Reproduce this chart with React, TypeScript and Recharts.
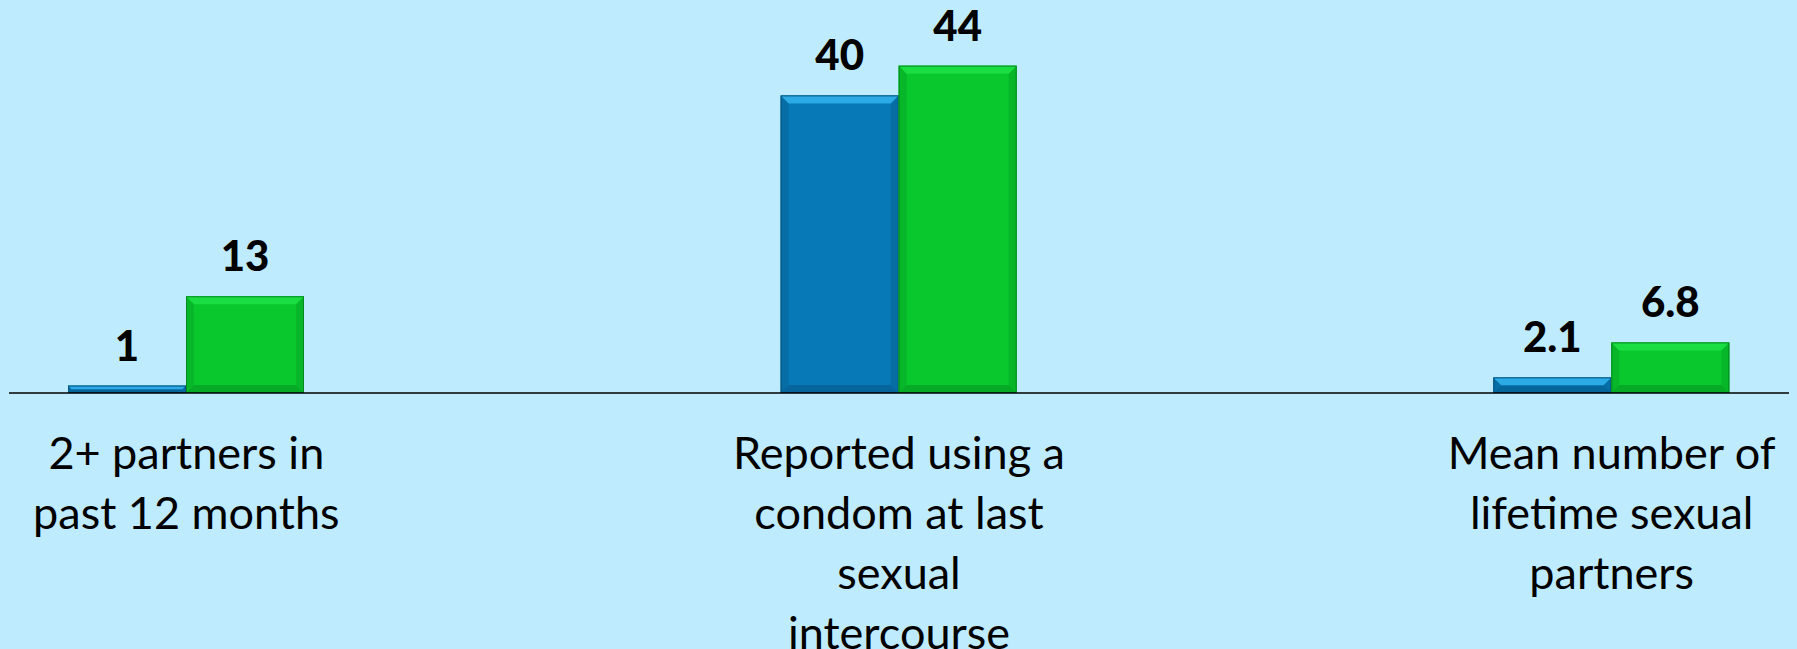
import React from 'react';
import { BarChart, Bar, XAxis, YAxis, LabelList } from 'recharts';

const CATEGORIES = [
  '2+ partners in\npast 12 months',
  'Reported using a\ncondom at last\nsexual\nintercourse',
  'Mean number of\nlifetime sexual\npartners',
];
const BLUE_VALUES = [1, 40, 2.1];
const GREEN_VALUES = [13, 44, 6.8];

const data = CATEGORIES.map((name, i) => ({
  name,
  blue: BLUE_VALUES[i],
  green: GREEN_VALUES[i],
}));

const BLUE = { main: '#0779B6', top: '#2CAAE6', side: '#066DA5', bottom: '#06659A', edge: '#05557F' };
const GREEN = { main: '#08C82D', top: '#1ADD42', side: '#07B629', bottom: '#06AA24', edge: '#068A20' };

const BevelBar = (props: any) => {
  const { x, y, width: w, height: h, tone } = props;
  if (!h || h <= 0) return null;
  const b = Math.min(8, h / 2, w / 2);
  const pts = (arr: number[][]) => arr.map((p) => p.join(',')).join(' ');
  return (
    <g>
      <rect x={x} y={y} width={w} height={h} fill={tone.main} />
      <polygon points={pts([[x, y], [x + b, y + b], [x + b, y + h - b], [x, y + h]])} fill={tone.side} />
      <polygon points={pts([[x + w, y], [x + w - b, y + b], [x + w - b, y + h - b], [x + w, y + h]])} fill={tone.side} />
      <polygon points={pts([[x, y + h], [x + w, y + h], [x + w - b, y + h - b], [x + b, y + h - b]])} fill={tone.bottom} />
      <polygon points={pts([[x, y], [x + w, y], [x + w - b, y + b], [x + b, y + b]])} fill={tone.top} />
      <rect x={x + 0.5} y={y + 0.5} width={w - 1} height={h - 1} fill="none" stroke={tone.edge} strokeWidth={1} />
    </g>
  );
};

const ValueLabel = (props: any) => {
  const { x, y, width, value } = props;
  return (
    <text
      x={x + width / 2}
      y={y - 25}
      textAnchor="middle"
      fontFamily="Lato, 'Open Sans', sans-serif"
      fontWeight={900}
      fontSize={42}
      fill="#000"
    >
      {value}
    </text>
  );
};

const CategoryTick = (props: any) => {
  const { x, y, payload } = props;
  const lines = String(payload.value).split('\n');
  return (
    <text
      x={x}
      y={y}
      textAnchor="middle"
      fontFamily="Lato, 'Open Sans', sans-serif"
      fontSize={45}
      fill="#000"
    >
      {lines.map((line, i) => (
        <tspan key={i} x={x} dy={i === 0 ? 68 : 60}>
          {line}
        </tspan>
      ))}
    </text>
  );
};

export default function App() {
  return (
    <div style={{ position: 'absolute', top: 0, left: 0, width: 1797, height: 649, background: '#BEEBFD' }}>
      <BarChart
        width={1797}
        height={649}
        data={data}
        margin={{ top: 21, right: 8, bottom: 0, left: 9 }}
        barGap={0}
        barSize={118}
      >
        <XAxis
          dataKey="name"
          height={256}
          padding={{ left: -179, right: -179 }}
          axisLine={{ stroke: '#000', strokeWidth: 1.5 }}
          tickLine={false}
          interval={0}
          tick={<CategoryTick />}
        />
        <YAxis hide domain={[0, 50]} />
        <Bar dataKey="blue" isAnimationActive={false} shape={(p: any) => <BevelBar {...p} tone={BLUE} />}>
          <LabelList dataKey="blue" content={<ValueLabel />} />
        </Bar>
        <Bar dataKey="green" isAnimationActive={false} shape={(p: any) => <BevelBar {...p} tone={GREEN} />}>
          <LabelList dataKey="green" content={<ValueLabel />} />
        </Bar>
      </BarChart>
    </div>
  );
}
